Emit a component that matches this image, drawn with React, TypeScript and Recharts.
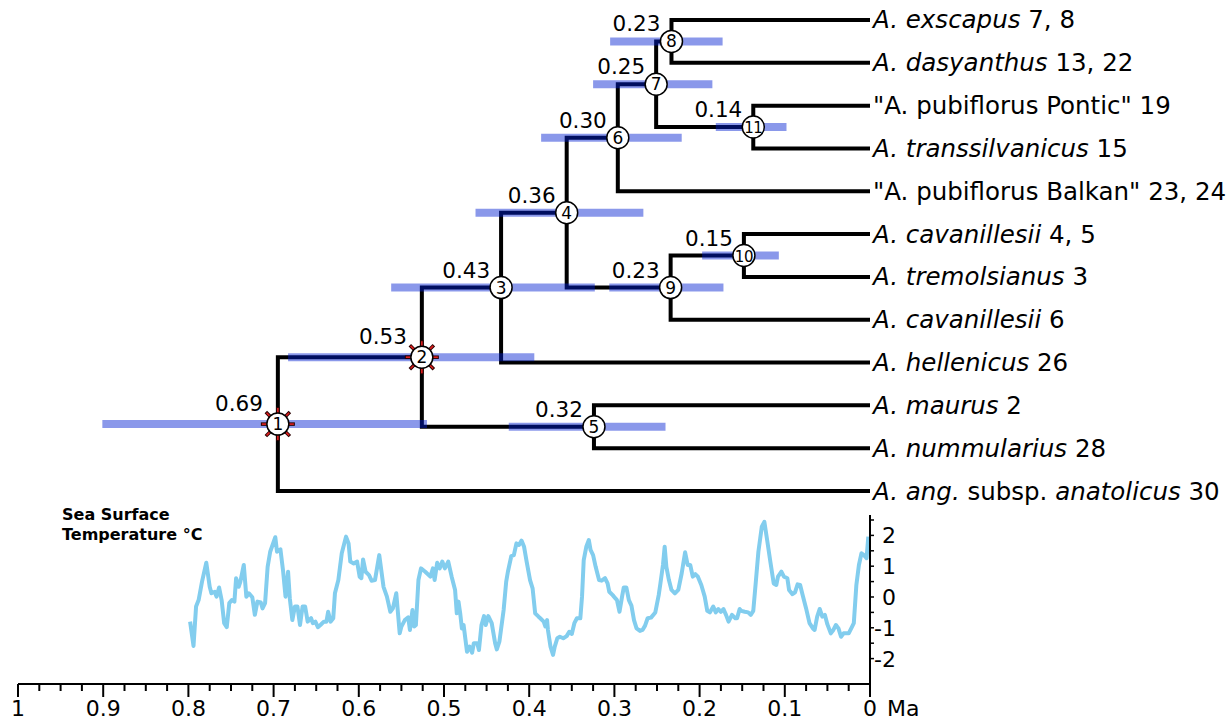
import React from 'react'
import { ComposedChart, Line, Scatter, XAxis, YAxis } from 'recharts'

const FONT = '"DejaVu Sans", Verdana, sans-serif'

// tips, top to bottom: [text, italic]
const tipLabels: [string, boolean][][] = [
  [['A. exscapus', true], [' 7, 8', false]],
  [['A. dasyanthus', true], [' 13, 22', false]],
  [['"A. pubiflorus Pontic" 19', false]],
  [['A. transsilvanicus', true], [' 15', false]],
  [['"A. pubiflorus Balkan" 23, 24', false]],
  [['A. cavanillesii', true], [' 4, 5', false]],
  [['A. tremolsianus', true], [' 3', false]],
  [['A. cavanillesii', true], [' 6', false]],
  [['A. hellenicus', true], [' 26', false]],
  [['A. maurus', true], [' 2', false]],
  [['A. nummularius', true], [' 28', false]],
  [['A. ang.', true], [' subsp. ', false], ['anatolicus', true], [' 30', false]],
]

// internal nodes 1..11
const nodeIds = [1, 2, 3, 4, 5, 6, 7, 8, 9, 10, 11]
const nodeAges = [0.695, 0.526, 0.433, 0.356, 0.324, 0.296, 0.251, 0.233, 0.234, 0.148, 0.137]
const nodeAgeLabels = ['0.69', '0.53', '0.43', '0.36', '0.32', '0.30', '0.25', '0.23', '0.23', '0.15', '0.14']
const nodeChildren = [
  ['n2', 't11'], ['n3', 'n5'], ['n4', 't8'], ['n6', 'n9'], ['t9', 't10'], ['n7', 't4'],
  ['n8', 'n11'], ['t0', 't1'], ['n10', 't7'], ['t5', 't6'], ['t2', 't3'],
]
const hpdOld = [0.901, 0.683, 0.562, 0.463, 0.424, 0.386, 0.325, 0.305, 0.306, 0.197, 0.181]
const hpdYoung = [0.520, 0.394, 0.323, 0.266, 0.240, 0.221, 0.185, 0.173, 0.172, 0.107, 0.098]
const sunNodes = [1, 2]

// sea surface temperature anomaly (°C) by age (Ma)
const sstAge = [0.798,0.794,0.791,0.788,0.784,0.779,0.775,0.773,0.769,0.767,0.764,0.761,0.758,0.755,0.752,0.749,0.746,0.744,0.741,0.739,0.735,0.732,0.729,0.725,0.722,0.719,0.715,0.713,0.710,0.707,0.704,0.698,0.696,0.692,0.689,0.686,0.683,0.681,0.678,0.675,0.672,0.669,0.666,0.663,0.660,0.656,0.654,0.651,0.648,0.645,0.641,0.638,0.636,0.633,0.630,0.628,0.624,0.620,0.615,0.612,0.610,0.606,0.602,0.599,0.597,0.595,0.592,0.588,0.585,0.581,0.576,0.571,0.567,0.563,0.560,0.556,0.552,0.550,0.546,0.542,0.540,0.537,0.535,0.533,0.530,0.527,0.522,0.516,0.513,0.511,0.508,0.505,0.502,0.499,0.495,0.491,0.487,0.485,0.483,0.481,0.479,0.477,0.473,0.470,0.467,0.465,0.461,0.459,0.456,0.453,0.451,0.448,0.444,0.440,0.438,0.435,0.430,0.427,0.425,0.421,0.418,0.415,0.412,0.409,0.406,0.403,0.399,0.396,0.393,0.389,0.387,0.383,0.381,0.379,0.378,0.375,0.372,0.370,0.367,0.364,0.360,0.356,0.353,0.350,0.347,0.344,0.340,0.338,0.336,0.333,0.330,0.328,0.325,0.322,0.318,0.315,0.311,0.308,0.306,0.302,0.299,0.297,0.294,0.291,0.289,0.286,0.283,0.280,0.277,0.274,0.270,0.267,0.264,0.261,0.257,0.252,0.248,0.246,0.243,0.241,0.239,0.236,0.233,0.229,0.225,0.221,0.217,0.214,0.211,0.208,0.205,0.202,0.198,0.194,0.191,0.188,0.184,0.181,0.178,0.175,0.172,0.169,0.166,0.162,0.158,0.156,0.153,0.151,0.147,0.143,0.140,0.137,0.134,0.131,0.127,0.124,0.121,0.117,0.113,0.110,0.108,0.104,0.101,0.097,0.095,0.091,0.088,0.085,0.082,0.079,0.075,0.071,0.067,0.065,0.062,0.059,0.056,0.053,0.050,0.046,0.043,0.040,0.037,0.034,0.031,0.025,0.021,0.019,0.016,0.013,0.010,0.007,0.004,0.002]
const sstTemp = [-0.80,-1.59,-0.31,-0.10,0.50,1.11,0.33,0.12,0.17,0.01,0.31,-0.10,-0.85,-0.98,-0.20,-0.10,-0.15,0.61,0.33,0.50,1.04,0.01,0.12,-0.01,-0.58,-0.15,-0.18,-0.37,-0.20,0.98,1.47,1.94,1.47,1.55,0.88,0.01,0.82,-0.04,-0.75,-0.31,-0.31,-0.91,-0.31,-0.31,-0.80,-0.69,-0.85,-0.80,-0.98,-0.91,-0.80,-0.80,-0.48,-0.80,-0.69,0.12,0.55,1.42,1.96,1.74,1.15,1.09,1.15,0.66,0.61,1.22,0.82,0.71,0.53,0.55,1.36,0.33,0.01,-0.48,-0.37,0.12,-1.18,-0.96,-0.75,-0.66,-1.07,-0.42,-0.96,-0.91,0.55,0.93,0.82,0.66,0.93,0.55,1.11,0.93,1.15,0.93,1.15,0.66,0.23,-0.53,-0.15,-0.53,-1.02,-0.91,-1.78,-1.61,-1.81,-1.50,-1.50,-1.72,-0.91,-0.62,-0.91,-0.62,-0.85,-1.50,-1.70,-1.45,-0.42,0.50,0.82,1.33,1.36,1.74,1.69,1.83,1.63,1.15,0.55,0.28,-0.53,-0.64,-0.69,-0.80,-0.96,-0.75,-1.07,-1.61,-1.88,-1.61,-1.34,-1.29,-1.34,-1.27,-1.13,-1.20,-0.85,-0.69,-0.69,0.01,1.20,1.63,1.85,1.53,1.36,0.98,0.55,0.53,0.61,0.44,0.17,0.06,-0.04,-0.10,-0.48,0.01,0.31,0.31,-0.10,-0.28,-0.75,-1.02,-1.10,-1.07,-0.93,-0.69,-0.67,-0.50,0.06,0.44,1.04,1.63,0.98,0.55,0.23,0.12,0.23,0.77,1.45,1.04,1.04,0.66,0.74,0.66,0.39,0.01,-0.45,-0.50,-0.31,-0.50,-0.39,-0.48,-0.39,-0.58,-0.80,-0.58,-0.69,-0.69,-0.39,-0.45,-0.48,-0.50,-0.58,-0.45,0.50,1.47,2.28,2.44,1.90,1.15,0.44,0.39,0.66,0.82,0.66,0.61,0.23,0.09,0.15,0.41,0.39,0.06,-0.37,-0.85,-1.02,-1.07,-0.64,-0.39,-0.64,-0.58,-0.89,-1.18,-1.07,-0.91,-1.02,-1.29,-1.18,-1.18,-0.96,-0.85,0.39,1.04,1.42,1.36,1.26,1.96]

const xTicks = Array.from({ length: 41 }, (_, i) => (i * 25) / 1000)
const sstTicks = [-2, -1.5, -1, -0.5, 0, 0.5, 1, 1.5, 2, 2.5]
const sstAxisSpan = [-2.825, 2.66]

// tree helpers
const ageOf = (ref: string) => (ref[0] === 't' ? 0 : nodeAges[Number(ref.slice(1)) - 1])
const yOf = (ref: string): number => {
  if (ref[0] === 't') return Number(ref.slice(1))
  const kids = nodeChildren[Number(ref.slice(1)) - 1]
  return (yOf(kids[0]) + yOf(kids[1])) / 2
}

const branches = nodeIds.flatMap((id, i) =>
  nodeChildren[i].map((c) => [
    { age: nodeAges[i], y: yOf('n' + id) },
    { age: nodeAges[i], y: yOf(c) },
    { age: ageOf(c), y: yOf(c) },
  ])
)
const hpdBars = nodeIds.map((id, i) => [
  { age: hpdOld[i], y: yOf('n' + id) },
  { age: hpdYoung[i], y: yOf('n' + id) },
])
const nodeData = nodeIds.map((id, i) => ({
  age: nodeAges[i], y: yOf('n' + id), id, label: nodeAgeLabels[i], sun: sunNodes.includes(id),
}))
const tipData = tipLabels.map((parts, i) => ({ age: 0, y: i, parts }))
const sstData = sstAge.map((a, i) => ({ age: a, t: sstTemp[i] }))
const sstAxisData = sstAxisSpan.map((t) => ({ age: 0, t }))

function XTick({ x, y, payload }: any) {
  const v = payload.value
  const major = Math.round(v * 1000) % 100 === 0
  const txt = v === 0 ? '0' : v === 1 ? '1' : v.toFixed(1)
  return (
    <g>
      <line x1={x} x2={x} y1={y} y2={y + (major ? 13 : 7)} stroke="#000" strokeWidth={2} />
      {major && (
        <text x={x} y={y + 32} textAnchor="middle" fontSize={22} fontFamily={FONT} fill="#000">{txt}</text>
      )}
      {v === 0 && (
        <text x={x + 17} y={y + 32} textAnchor="start" fontSize={22} fontFamily={FONT} fill="#000">Ma</text>
      )}
    </g>
  )
}

function SstTick({ x, y, payload }: any) {
  const v = payload.value
  return (
    <g>
      <line x1={x - 1} x2={x + 4} y1={y} y2={y} stroke="#000" strokeWidth={1.5} />
      {Number.isInteger(v) && (
        <text x={x + 26} y={y + 8} textAnchor="end" fontSize={22} fontFamily={FONT} fill="#000">
          {v < 0 ? '-' + Math.abs(v) : String(v)}
        </text>
      )}
    </g>
  )
}

function NodeShape({ cx, cy, payload }: any) {
  const sun = payload.sun
  const spikes = sun
    ? [0, 45, 90, 135, 180, 225, 270, 315].map((a) => {
        const r = (a * Math.PI) / 180
        return (
          <g key={a}>
            <line x1={cx + Math.cos(r) * 10} y1={cy + Math.sin(r) * 10} x2={cx + Math.cos(r) * 17} y2={cy + Math.sin(r) * 17} stroke="#2a0000" strokeWidth={3.5} />
            <line x1={cx + Math.cos(r) * 11} y1={cy + Math.sin(r) * 11} x2={cx + Math.cos(r) * 16} y2={cy + Math.sin(r) * 16} stroke="#e02020" strokeWidth={1.6} />
          </g>
        )
      })
    : null
  return (
    <g>
      {spikes}
      <circle cx={cx} cy={cy} r={11} fill="#fff" stroke="#000" strokeWidth={1.5} />
      <text x={cx} y={cy + 6} textAnchor="middle" fontSize={payload.id >= 10 ? 15 : 17} letterSpacing={payload.id >= 10 ? -0.5 : 0} fontFamily={FONT} fill="#000">
        {payload.id}
      </text>
      <text x={cx - (sun ? 15 : 11)} y={cy - (sun ? 13 : 10)} textAnchor="end" fontSize={21.5} fontFamily={FONT} fill="#000">
        {payload.label}
      </text>
    </g>
  )
}

function TipShape({ cx, cy, payload }: any) {
  return (
    <text x={cx + 3} y={cy + 8.5} fontSize={24.5} fontFamily={FONT} fill="#000" style={{ whiteSpace: 'pre' }}>
      {payload.parts.map(([t, it]: [string, boolean], k: number) => (
        <tspan key={k} fontStyle={it ? 'italic' : 'normal'}>{t}</tspan>
      ))}
    </text>
  )
}

export default function App() {
  return (
    <div style={{ position: 'absolute', left: 0, top: 0, width: 1231, height: 722, background: '#fff', fontFamily: FONT }}>
      <ComposedChart width={1231} height={722} margin={{ top: 0, right: 321, bottom: 0, left: 18 }}>
        <XAxis
          xAxisId="x"
          dataKey="age"
          type="number"
          domain={[0, 1]}
          reversed
          ticks={xTicks}
          interval={0}
          tickSize={0}
          tickMargin={0}
          tickLine={false}
          tick={<XTick />}
          axisLine={{ stroke: '#000', strokeWidth: 2 }}
          height={38}
        />
        <YAxis yAxisId="tree" dataKey="y" type="number" domain={[-0.467, 15.507]} reversed hide />
        <YAxis
          yAxisId="sst"
          orientation="right"
          type="number"
          domain={[-2.825, 19.383]}
          ticks={sstTicks}
          interval={0}
          tickSize={0}
          tickMargin={0}
          tickLine={false}
          axisLine={false}
          tick={<SstTick />}
          width={40}
        />

        {branches.map((d, i) => (
          <Line
            key={'b' + i}
            data={d}
            dataKey="y"
            xAxisId="x"
            yAxisId="tree"
            stroke="#000"
            strokeWidth={4}
            strokeLinejoin="miter"
            dot={false}
            activeDot={false}
            isAnimationActive={false}
          />
        ))}
        {hpdBars.map((d, i) => (
          <Line
            key={'h' + i}
            data={d}
            dataKey="y"
            xAxisId="x"
            yAxisId="tree"
            stroke="rgb(0,30,210)"
            strokeOpacity={0.46}
            strokeWidth={8}
            dot={false}
            activeDot={false}
            isAnimationActive={false}
          />
        ))}
        <Line
          data={sstData}
          dataKey="t"
          xAxisId="x"
          yAxisId="sst"
          stroke="#82cdee"
          strokeWidth={4}
          strokeLinejoin="round"
          dot={false}
          activeDot={false}
          isAnimationActive={false}
        />
        <Line
          data={sstAxisData}
          dataKey="t"
          xAxisId="x"
          yAxisId="sst"
          stroke="#000"
          strokeWidth={2}
          dot={false}
          activeDot={false}
          isAnimationActive={false}
        />
        <Scatter data={nodeData} xAxisId="x" yAxisId="tree" shape={<NodeShape />} isAnimationActive={false} />
        <Scatter data={tipData} xAxisId="x" yAxisId="tree" shape={<TipShape />} isAnimationActive={false} />
      </ComposedChart>
      <div style={{ position: 'absolute', left: 62, top: 505, fontSize: 16, lineHeight: '20px', fontWeight: 'bold', color: '#000' }}>
        Sea Surface
        <br />
        Temperature °C
      </div>
    </div>
  )
}
